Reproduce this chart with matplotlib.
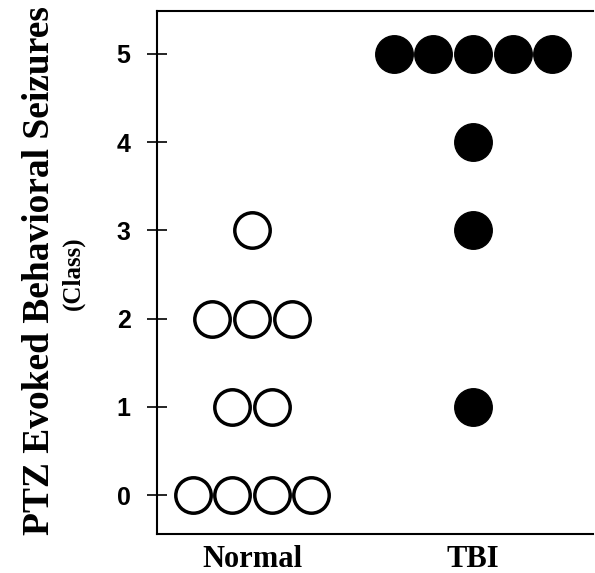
import matplotlib
matplotlib.use('Agg')
import matplotlib.pyplot as plt
from collections import Counter

groups = ['Normal', 'TBI']
normal_scores = [0, 0, 0, 0, 1, 1, 2, 2, 2, 3]
tbi_scores = [1, 3, 4, 5, 5, 5, 5, 5]
yticks = [0, 1, 2, 3, 4, 5]
ylabel_main = 'PTZ Evoked Behavioral Seizures'
ylabel_sub = '(Class)'

fig = plt.figure(figsize=(5.95, 5.73), dpi=100)
ax = fig.add_axes([157/595, 1-534/573, (593-157)/595, (534-11)/573])

spacing = 0.179

def swarm(scores, center):
    xs, ys = [], []
    counts = Counter(scores)
    for v in sorted(counts):
        n = counts[v]
        for i in range(n):
            xs.append(center + (i - (n - 1) / 2) * spacing)
            ys.append(v)
    return xs, ys

xn, yn = swarm(normal_scores, 1)
xt, yt = swarm(tbi_scores, 2)
ax.plot(xn, yn, 'o', ms=25.5, mfc='white', mec='black', mew=2.5, ls='none', clip_on=False)
ax.plot(xt, yt, 'o', ms=27, mfc='black', mec='black', mew=1, ls='none', clip_on=False)

ax.set_xlim(0.570, 2.543)
ax.set_ylim(-0.442, 5.4875)
ax.spines['right'].set_visible(False)
for s in ['top', 'left', 'bottom']:
    ax.spines[s].set_linewidth(1.5)

ax.set_xticks([1, 2])
ax.set_xticklabels(groups, fontfamily='Liberation Serif', fontweight='bold', fontsize=22)
ax.tick_params(axis='x', length=0, pad=8)
ax.set_yticks(yticks)
ax.set_yticklabels([str(v) for v in yticks], fontfamily='Liberation Sans', fontweight='bold', fontsize=18)
ax.tick_params(axis='y', direction='inout', length=14, width=1.2, pad=12)

fig.text(40/595, 1-271/573, ylabel_main, rotation=90, ha='center', va='center',
         fontfamily='Liberation Serif', fontweight='bold', fontsize=27)
fig.text(73/595, 1-273/573, ylabel_sub, rotation=90, ha='center', va='center',
         fontfamily='Liberation Serif', fontweight='bold', fontsize=18)

fig.savefig('out.png', dpi=100)
